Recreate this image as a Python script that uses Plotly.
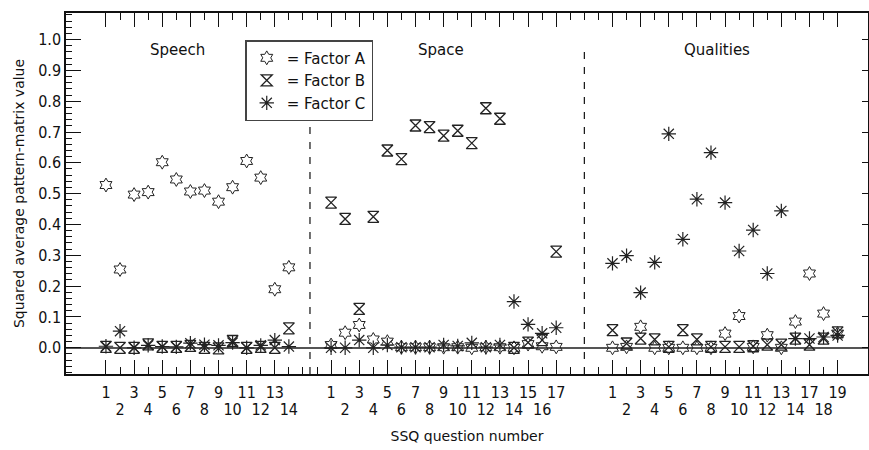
import numpy as np
import plotly.graph_objects as go

# ---------------- data ----------------
groups = ["Speech", "Space", "Qualities"]
speech_q = list(range(1, 15))
space_q = list(range(1, 18))
qual_q = list(range(1, 15)) + [17, 18, 19]

speech_A = [0.528, 0.254, 0.497, 0.505, 0.602, 0.546, 0.507, 0.510, 0.474, 0.521, 0.606, 0.552, 0.190, 0.261]
speech_B = [0.003, 0.000, 0.000, 0.011, 0.003, 0.003, 0.006, 0.000, -0.002, 0.022, 0.000, 0.003, 0.000, 0.063]
speech_C = [0.005, 0.054, 0.000, 0.008, 0.004, 0.003, 0.015, 0.010, 0.008, 0.017, 0.000, 0.008, 0.025, 0.004]

space_A = [0.009, 0.049, 0.074, 0.027, 0.020, 0.002, 0.002, 0.002, 0.002, 0.002, 0.000, 0.002, 0.002, 0.000, 0.012, 0.005, 0.003]
space_B = [0.471, 0.418, 0.126, 0.425, 0.640, 0.612, 0.721, 0.716, 0.688, 0.704, 0.664, 0.777, 0.743, 0.000, 0.017, 0.025, 0.312]
space_C = [0.000, 0.000, 0.025, 0.000, 0.009, 0.002, 0.002, 0.002, 0.009, 0.006, 0.016, 0.002, 0.009, 0.150, 0.076, 0.047, 0.065]

qual_A = [0.000, 0.003, 0.068, 0.000, 0.000, 0.000, 0.000, 0.000, 0.046, 0.103, 0.003, 0.041, 0.000, 0.085, 0.241, 0.111, 0.046]
qual_B = [0.057, 0.014, 0.030, 0.027, 0.003, 0.057, 0.027, 0.003, 0.003, 0.003, 0.005, 0.010, 0.010, 0.030, 0.010, 0.030, 0.050]
qual_C = [0.274, 0.299, 0.179, 0.277, 0.694, 0.352, 0.482, 0.633, 0.471, 0.314, 0.382, 0.241, 0.444, 0.030, 0.030, 0.035, 0.040]

y_ticks = [round(0.1 * i, 1) for i in range(11)]

# ---------------- layout helpers ----------------
group_q = [speech_q, space_q, qual_q]
group_offsets = [0, 16, 36]  # slot index of first question in each group

xs = [off + np.arange(len(q)) for off, q in zip(group_offsets, group_q)]
x_all = np.concatenate(xs)

odd_x, odd_t, even_x, even_t = [], [], [], []
for g in range(3):
    for i, q in enumerate(group_q[g]):
        if i % 2 == 0:
            odd_x.append(float(xs[g][i])); odd_t.append(str(q))
        else:
            even_x.append(float(xs[g][i])); even_t.append("<br>" + str(q))

gap_x = []
for g in range(2):
    last = int(xs[g][-1]); first = int(xs[g + 1][0])
    gap_x += list(range(last + 1, first))
dividers = [(xs[g][-1] + xs[g + 1][0]) / 2 for g in range(2)]

A = np.concatenate([speech_A, space_A, qual_A])
B = np.concatenate([speech_B, space_B, qual_B])
C = np.concatenate([speech_C, space_C, qual_C])

xr = [-2.84, 54.16]
yr = [-0.085, 1.086]
ink = "#222222"
tickfont = dict(family="DejaVu Sans Condensed, Liberation Sans Narrow, Arial Narrow, sans-serif", size=16, color="#111")
txtfont = dict(family="DejaVu Sans, Liberation Sans, sans-serif", size=14, color="#111")

fig = go.Figure()
fig.add_trace(go.Scatter(x=x_all, y=A, mode="markers", name="= Factor A",
                         marker=dict(symbol="hexagram-open", size=10.5, color=ink, line=dict(width=1, color=ink))))
fig.add_trace(go.Scatter(x=x_all, y=B, mode="markers", name="= Factor B",
                         marker=dict(symbol="hourglass-open", size=11, color=ink, line=dict(width=1.3, color=ink))))
fig.add_trace(go.Scatter(x=x_all, y=C, mode="markers", name="= Factor C",
                         marker=dict(symbol="asterisk-open", size=12, color=ink, line=dict(width=1.2, color=ink))))
# invisible traces to activate the overlay axes
fig.add_trace(go.Scatter(x=[xr[0]], y=[yr[0]], xaxis="x2", yaxis="y", mode="markers",
                         marker=dict(opacity=0), showlegend=False, hoverinfo="skip"))
fig.add_trace(go.Scatter(x=[xr[0]], y=[yr[0]], xaxis="x", yaxis="y2", mode="markers",
                         marker=dict(opacity=0), showlegend=False, hoverinfo="skip"))

for d in dividers:
    fig.add_shape(type="line", xref="x", yref="y", x0=d, x1=d, y0=yr[0], y1=0.983,
                  line=dict(color="#111", width=1.2, dash="7px,8px"))

title_x = [5.1, 23.8, 43.4]
for name, tx in zip(groups, title_x):
    fig.add_annotation(x=tx, y=0.967, xref="x", yref="y", text=name, showarrow=False,
                       font=dict(family="DejaVu Sans, Liberation Sans, sans-serif", size=15, color="#111"))

fig.update_layout(
    width=869, height=450,
    margin=dict(l=66, r=1, t=13, b=76),
    plot_bgcolor="white", paper_bgcolor="white",
    showlegend=True,
    legend=dict(x=0.2235, y=0.925, xanchor="left", yanchor="top",
                bordercolor="#444", borderwidth=1.5, bgcolor="white",
                font=dict(family="DejaVu Sans, Liberation Sans, sans-serif", size=15, color="#111"),
                itemwidth=30, tracegroupgap=0),
    xaxis=dict(range=xr, tickmode="array", tickvals=odd_x, ticktext=odd_t,
               ticks="inside", ticklen=14, tickwidth=1.2, tickcolor="#111",
               minor=dict(tickmode="array", tickvals=even_x + [float(g) for g in gap_x],
                          ticks="inside", ticklen=7, tickwidth=1.2, tickcolor="#111"),
               showline=True, linecolor="#111", linewidth=1.5, mirror="ticks",
               showgrid=False, zeroline=False, tickfont=tickfont, ticklabelstandoff=3,
               title=dict(text="SSQ question number", font=txtfont, standoff=30)),
    xaxis2=dict(range=xr, overlaying="x", anchor="y", side="bottom",
                tickmode="array", tickvals=even_x, ticktext=even_t, ticks="",
                showline=False, showgrid=False, zeroline=False, tickfont=tickfont,
                ticklabelstandoff=3),
    yaxis=dict(range=yr, tickmode="array", tickvals=y_ticks, ticktext=[f"{v:.1f}" for v in y_ticks],
               ticks="inside", ticklen=15, tickwidth=1.2, tickcolor="#111",
               minor=dict(dtick=0.02, tick0=0, ticks="inside", ticklen=6, tickwidth=1, tickcolor="#111"),
               showline=True, linecolor="#111", linewidth=1.5, mirror=False,
               showgrid=False, zeroline=True, zerolinecolor="#555", zerolinewidth=1.6,
               tickfont=tickfont,
               title=dict(text="Squared average pattern-matrix value", font=txtfont, standoff=10)),
    yaxis2=dict(range=yr, overlaying="y", anchor="x", side="right",
                tickmode="array", tickvals=y_ticks, showticklabels=False,
                ticks="inside", ticklen=6, tickwidth=1.2, tickcolor="#111",
                showline=True, linecolor="#111", linewidth=1.5,
                showgrid=False, zeroline=False),
)

fig.write_html("out.html")
